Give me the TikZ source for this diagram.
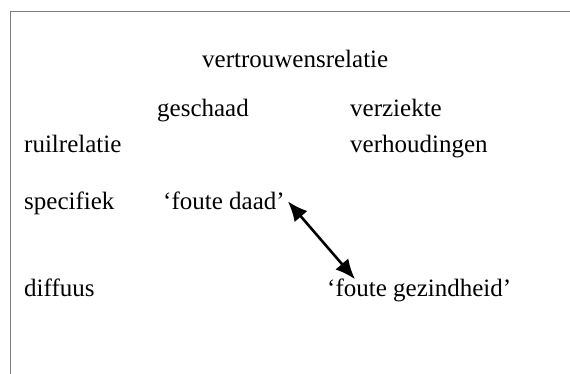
\documentclass[tikz,border=0pt]{standalone}
\usepackage{fontspec}
\setmainfont{Liberation Serif}
\usetikzlibrary{arrows.meta, positioning}

\begin{document}
\begin{tikzpicture}[x=1pt,y=-1pt]
		\tikzstyle{label} = [anchor=base west, inner sep=0pt, font=\fontsize{25}{30}\selectfont]
		\tikzstyle{line} = [draw, line width=2.6pt, {Latex[length=20pt,width=17pt]}-{Latex[length=20pt,width=17pt]}]
		\useasboundingbox (0,0) rectangle (570,374);
		% kader
		\draw[gray, line width=0.8pt] (570,11) -- (10,11) -- (10,374);
		
		% kop en kolommen
		\node[label] (vertr) at (202,68) {vertrouwensrelatie};
		\node[label] (gesch) at (157,117) {geschaad};
		\node[label] (verz) at (350,117) {verziekte};
		\node[label] (verh) at (350,153) {verhoudingen};
		
		% rijen
		\node[label] (ruil) at (24,153) {ruilrelatie};
		\node[label] (spec) at (24,210) {specifiek};
		\node[label] (diff) at (24,296) {diffuus};
		
		% cellen
		\node[label] (daad) at (163,210) {‘foute daad’};
		\node[label] (gez) at (327,296) {‘foute gezindheid’};
		
		% pijl tussen de cellen
		\path [line] ([xshift=3pt]daad.east) -- ([xshift=28pt,yshift=-1pt]gez.north west);
	\end{tikzpicture}
\end{document}
